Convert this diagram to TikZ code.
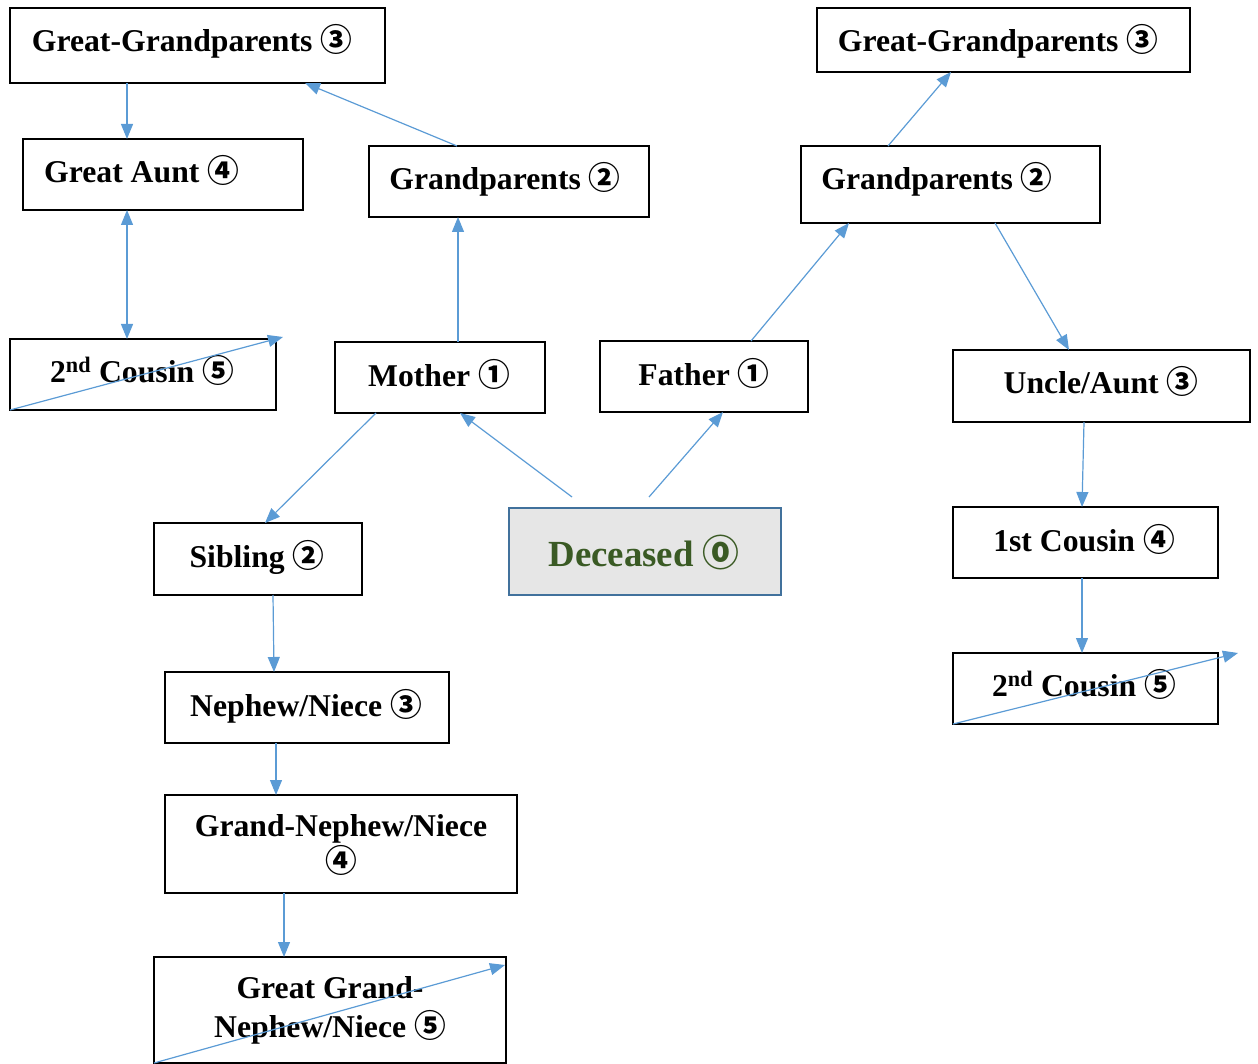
\documentclass[tikz,border=0pt]{standalone}
\usepackage{fontspec}
\setmainfont{Liberation Serif}
\newfontfamily\circfont{Noto Sans CJK SC}
\usetikzlibrary{arrows.meta,calc}
\newcommand{\cn}[1]{{\circfont\bfseries #1}}
\definecolor{arrblue}{HTML}{5B9BD5}
\definecolor{decborder}{HTML}{41719C}
\definecolor{decfill}{HTML}{E6E6E6}
\definecolor{decgreen}{HTML}{3A5A24}
\tikzset{
  bx/.style={draw=black, line width=1.2pt, inner sep=0pt, outer sep=0pt, rectangle},
  txt/.style={font=\fontsize{31.7pt}{38pt}\selectfont\bfseries, inner sep=0pt, anchor=base},
  arr/.style={draw=arrblue, line width=1.2pt, -{Triangle[length=15pt,width=12pt]}},
  darr/.style={draw=arrblue, line width=1.2pt, {Triangle[length=15pt,width=12pt]}-{Triangle[length=15pt,width=12pt]}},
}
\newcommand{\mkbox}[6][]{%
  \node[bx,#1,minimum width={(#5)-(#3)}, minimum height={(#6)-(#4)}] (#2) at ({((#3)+(#5))/2},{((#4)+(#6))/2}) {};}
\begin{document}
\begin{tikzpicture}[x=1pt,y=-1pt]
\useasboundingbox (0,0) rectangle (1258,1064);
% boxes
\mkbox{ggpL}{10}{8}{385}{83}
\mkbox{ggpR}{817}{8}{1190}{72}
\mkbox{gaunt}{23}{139}{303}{210}
\mkbox{gpL}{369}{146}{649}{217}
\mkbox{gpR}{801}{146}{1100}{223}
\mkbox{cousL}{10}{339}{276}{410}
\mkbox{mother}{335}{342}{545}{413}
\mkbox{father}{600}{341}{808}{412}
\mkbox{uncle}{953}{350}{1250}{422}
\mkbox{sibling}{154}{523}{362}{595}
\mkbox[draw=decborder,fill=decfill,line width=2.6pt]{deceased}{509}{508}{781}{595}
\mkbox{cousA}{953}{507}{1218}{578}
\mkbox{cousR}{953}{653}{1218}{724}
\mkbox{nephew}{165}{672}{449}{743}
\mkbox{gnephew}{165}{795}{517}{893}
\mkbox{ggnephew}{154}{957}{506}{1063}
% texts
\node[txt] (t1) at (192,52) {Great-Grandparents \cn{③}};
\node[txt] (t2) at (998,52) {Great-Grandparents \cn{③}};
\node[txt,anchor=base west] (t3) at (44,183) {Great Aunt \cn{④}};
\node[txt] (t4) at (505,190) {Grandparents \cn{②}};
\node[txt] (t5) at (937,190) {Grandparents \cn{②}};
\node[txt] (t6) at (142,382) {2\textsuperscript{nd} Cousin \cn{⑤}};
\node[txt] (t7) at (439,387) {Mother \cn{①}};
\node[txt] (t8) at (704,385) {Father \cn{①}};
\node[txt] (t9) at (1101,393) {Uncle/Aunt \cn{③}};
\node[txt] (t10) at (257,567) {Sibling \cn{②}};
\node[txt,font=\fontsize{36.8pt}{44pt}\selectfont\bfseries,text=decgreen] (t11) at (644,566) {Deceased \cn{⓪}};
\node[txt] (t12) at (1084,551) {1st Cousin \cn{④}};
\node[txt] (t13) at (1084,696) {2\textsuperscript{nd} Cousin \cn{⑤}};
\node[txt] (t14) at (306,716) {Nephew/Niece \cn{③}};
\node[txt] (t15) at (341,836) {Grand-Nephew/Niece};
\node[txt] (t16) at (341,872) {\cn{④}};
\node[txt] (t17) at (330,998) {Great Grand-};
\node[txt] (t18) at (330,1037) {Nephew/Niece \cn{⑤}};
% connectors
\draw[arr] ($(mother.north west)+(123,0)$) -- ($(gpL.south west)+(89,0)$);
\draw[arr] ($(gpL.north west)+(88,0)$) -- ($(ggpL.south west)+(295,0)$);
\draw[arr] ($(ggpL.south west)+(117,0)$) -- ($(gaunt.north west)+(104,0)$);
\draw[darr] ($(gaunt.south west)+(104,0)$) -- ($(cousL.north west)+(117,0)$);
\draw[arr] ($(deceased.north west)+(63,-11)$) -- ($(mother.south west)+(125,0)$);
\draw[arr] ($(deceased.north west)+(140,-11)$) -- ($(father.south west)+(123,0)$);
\draw[arr] ($(father.north west)+(151,0)$) -- ($(gpR.south west)+(48,0)$);
\draw[arr] ($(gpR.north west)+(87,0)$) -- ($(ggpR.south west)+(134,0)$);
\draw[arr] ($(gpR.south west)+(194,0)$) -- ($(uncle.north west)+(116,0)$);
\draw[arr] ($(uncle.south west)+(131,0)$) -- ($(cousA.north west)+(129,0)$);
\draw[arr] ($(cousA.south west)+(129,0)$) -- ($(cousR.north west)+(129,0)$);
\draw[arr] ($(mother.south west)+(41,0)$) -- ($(sibling.north west)+(111,0)$);
\draw[arr] ($(sibling.south west)+(119,0)$) -- ($(nephew.north west)+(109,0)$);
\draw[arr] ($(nephew.south west)+(111,0)$) -- ($(gnephew.north west)+(111,0)$);
\draw[arr] ($(gnephew.south west)+(119,0)$) -- ($(ggnephew.north west)+(130,0)$);
% diagonal strokes
\draw[arr] (cousL.south west) -- ($(cousL.north east)+(7,-2)$);
\draw[arr] (cousR.south west) -- ($(cousR.north east)+(20,0)$);
\draw[arr] (ggnephew.south west) -- ($(ggnephew.north east)+(-1,8)$);
\end{tikzpicture}
\end{document}
